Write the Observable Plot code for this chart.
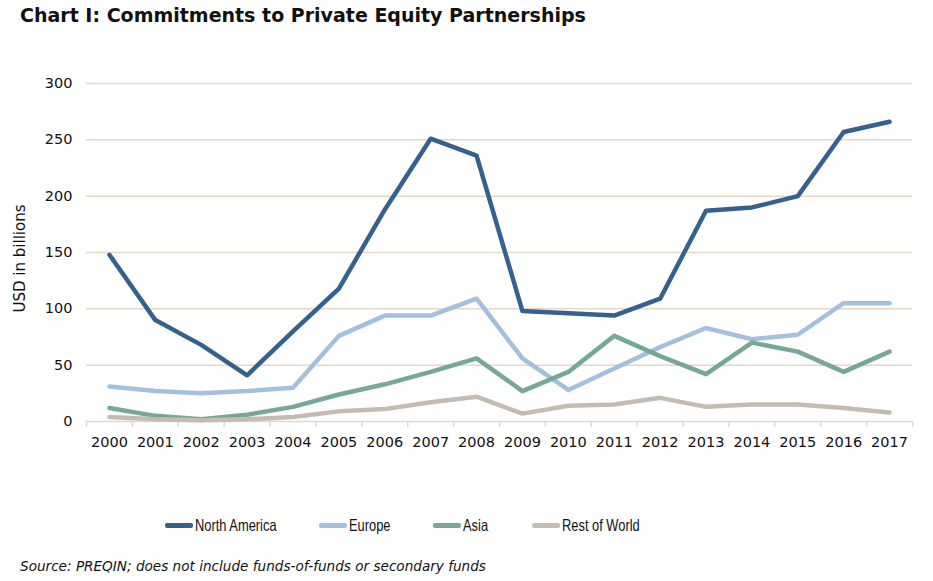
<!DOCTYPE html>
<html><head><meta charset="utf-8">
<script src="https://cdn.jsdelivr.net/npm/d3@7"></script>
<script src="https://cdn.jsdelivr.net/npm/@observablehq/plot@0.6"></script>
<style>
body{margin:0;background:#fff;width:933px;height:581px;overflow:hidden;font-family:"DejaVu Sans",Verdana,sans-serif;}
#title{position:absolute;left:20px;top:4px;font-weight:bold;font-size:19px;color:#111;}
#chart{position:absolute;left:0;top:45px;}
#legend{position:absolute;top:516px;left:0;width:933px;font-family:"Liberation Sans",Arial,sans-serif;font-size:16.5px;color:#111;}
.item{position:absolute;display:flex;align-items:center;}
.sw{width:28px;height:4.5px;border-radius:2px;margin-right:2px;}
.lbl{display:inline-block;transform:scaleX(0.78);transform-origin:left center;white-space:nowrap;}
#source{position:absolute;left:20px;top:558px;font-style:italic;font-size:13.6px;font-family:"DejaVu Sans",sans-serif;color:#111;}
</style></head>
<body>
<div id="title">Chart I: Commitments to Private Equity Partnerships</div>
<div id="chart"></div>
<div id="legend"></div>
<div id="source">Source: PREQIN; does not include funds-of-funds or secondary funds</div>
<script>
const years = [2000,2001,2002,2003,2004,2005,2006,2007,2008,2009,2010,2011,2012,2013,2014,2015,2016,2017];
const northAmerica = [148,90,68,41,80,118,188,251,236,98,96,94,109,187,190,200,257,266];
const europe = [31,27,25,27,30,76,94,94,109,56,28,47,66,83,73,77,105,105];
const asia = [12,5,2,6,13,24,33,44,56,27,44,76,58,42,70,62,44,62];
const restOfWorld = [4,2,1,2,4,9,11,17,22,7,14,15,21,13,15,15,12,8];
const seriesNames = ["North America","Europe","Asia","Rest of World"];
const seriesColors = ["#34618f","#a3c0e1","#76a898","#c4bbb3"];
const yTicks = [0,50,100,150,200,250,300];

const seriesValues = [northAmerica, europe, asia, restOfWorld];
const data = [];
seriesNames.forEach((s,i)=>years.forEach((y,j)=>data.push({series:s, year:y, value:seriesValues[i][j]})));
const boundaries = years.map(y=>y-0.5).concat([years[years.length-1]+0.5]);

const plot = Plot.plot({
  width: 933, height: 415,
  marginLeft: 86, marginRight: 21, marginTop: 38, marginBottom: 39,
  style:{fontFamily:"DejaVu Sans, Verdana, sans-serif", fontSize:"14.5px", color:"#111", background:"#fff"},
  x:{domain:[boundaries[0], boundaries[boundaries.length-1]]},
  y:{domain:[0,300]},
  color:{domain:seriesNames, range:seriesColors},
  marks:[
    Plot.gridY(yTicks.filter(t=>t>0), {stroke:"#e6d8c3", strokeOpacity:1, strokeWidth:1.5}),
    Plot.ruleY([0], {stroke:"#d9d9d9", strokeWidth:1.5}),
    Plot.axisX(boundaries, {tickSize:6, tickFormat:()=>"", label:null, stroke:"#d9d9d9", strokeWidth:1.5}),
    Plot.axisX(years, {tickSize:0, tickPadding:15, tickFormat:d=>String(d), label:null, fontSize:14.5}),
    Plot.axisY(yTicks, {tickSize:0, tickPadding:14, label:null, fontSize:14.5}),
    Plot.text(["USD in billions"], {frameAnchor:"left", textAnchor:"middle", dx:-66, dy:6, rotate:-90, fontSize:15}),
    Plot.line(data, {x:"year", y:"value", z:"series", stroke:"series", strokeWidth:4.5, strokeLinejoin:"round", strokeLinecap:"round"})
  ]
});
document.getElementById("chart").appendChild(plot);

const lg = document.getElementById("legend");
const lefts = [165, 319, 433, 532];
seriesNames.forEach((s,i)=>{
  const d = document.createElement("div");
  d.className="item"; d.style.left = lefts[i]+"px";
  d.innerHTML = `<div class="sw" style="background:${seriesColors[i]}"></div><span class="lbl">${s}</span>`;
  lg.appendChild(d);
});
</script>
</body></html>
